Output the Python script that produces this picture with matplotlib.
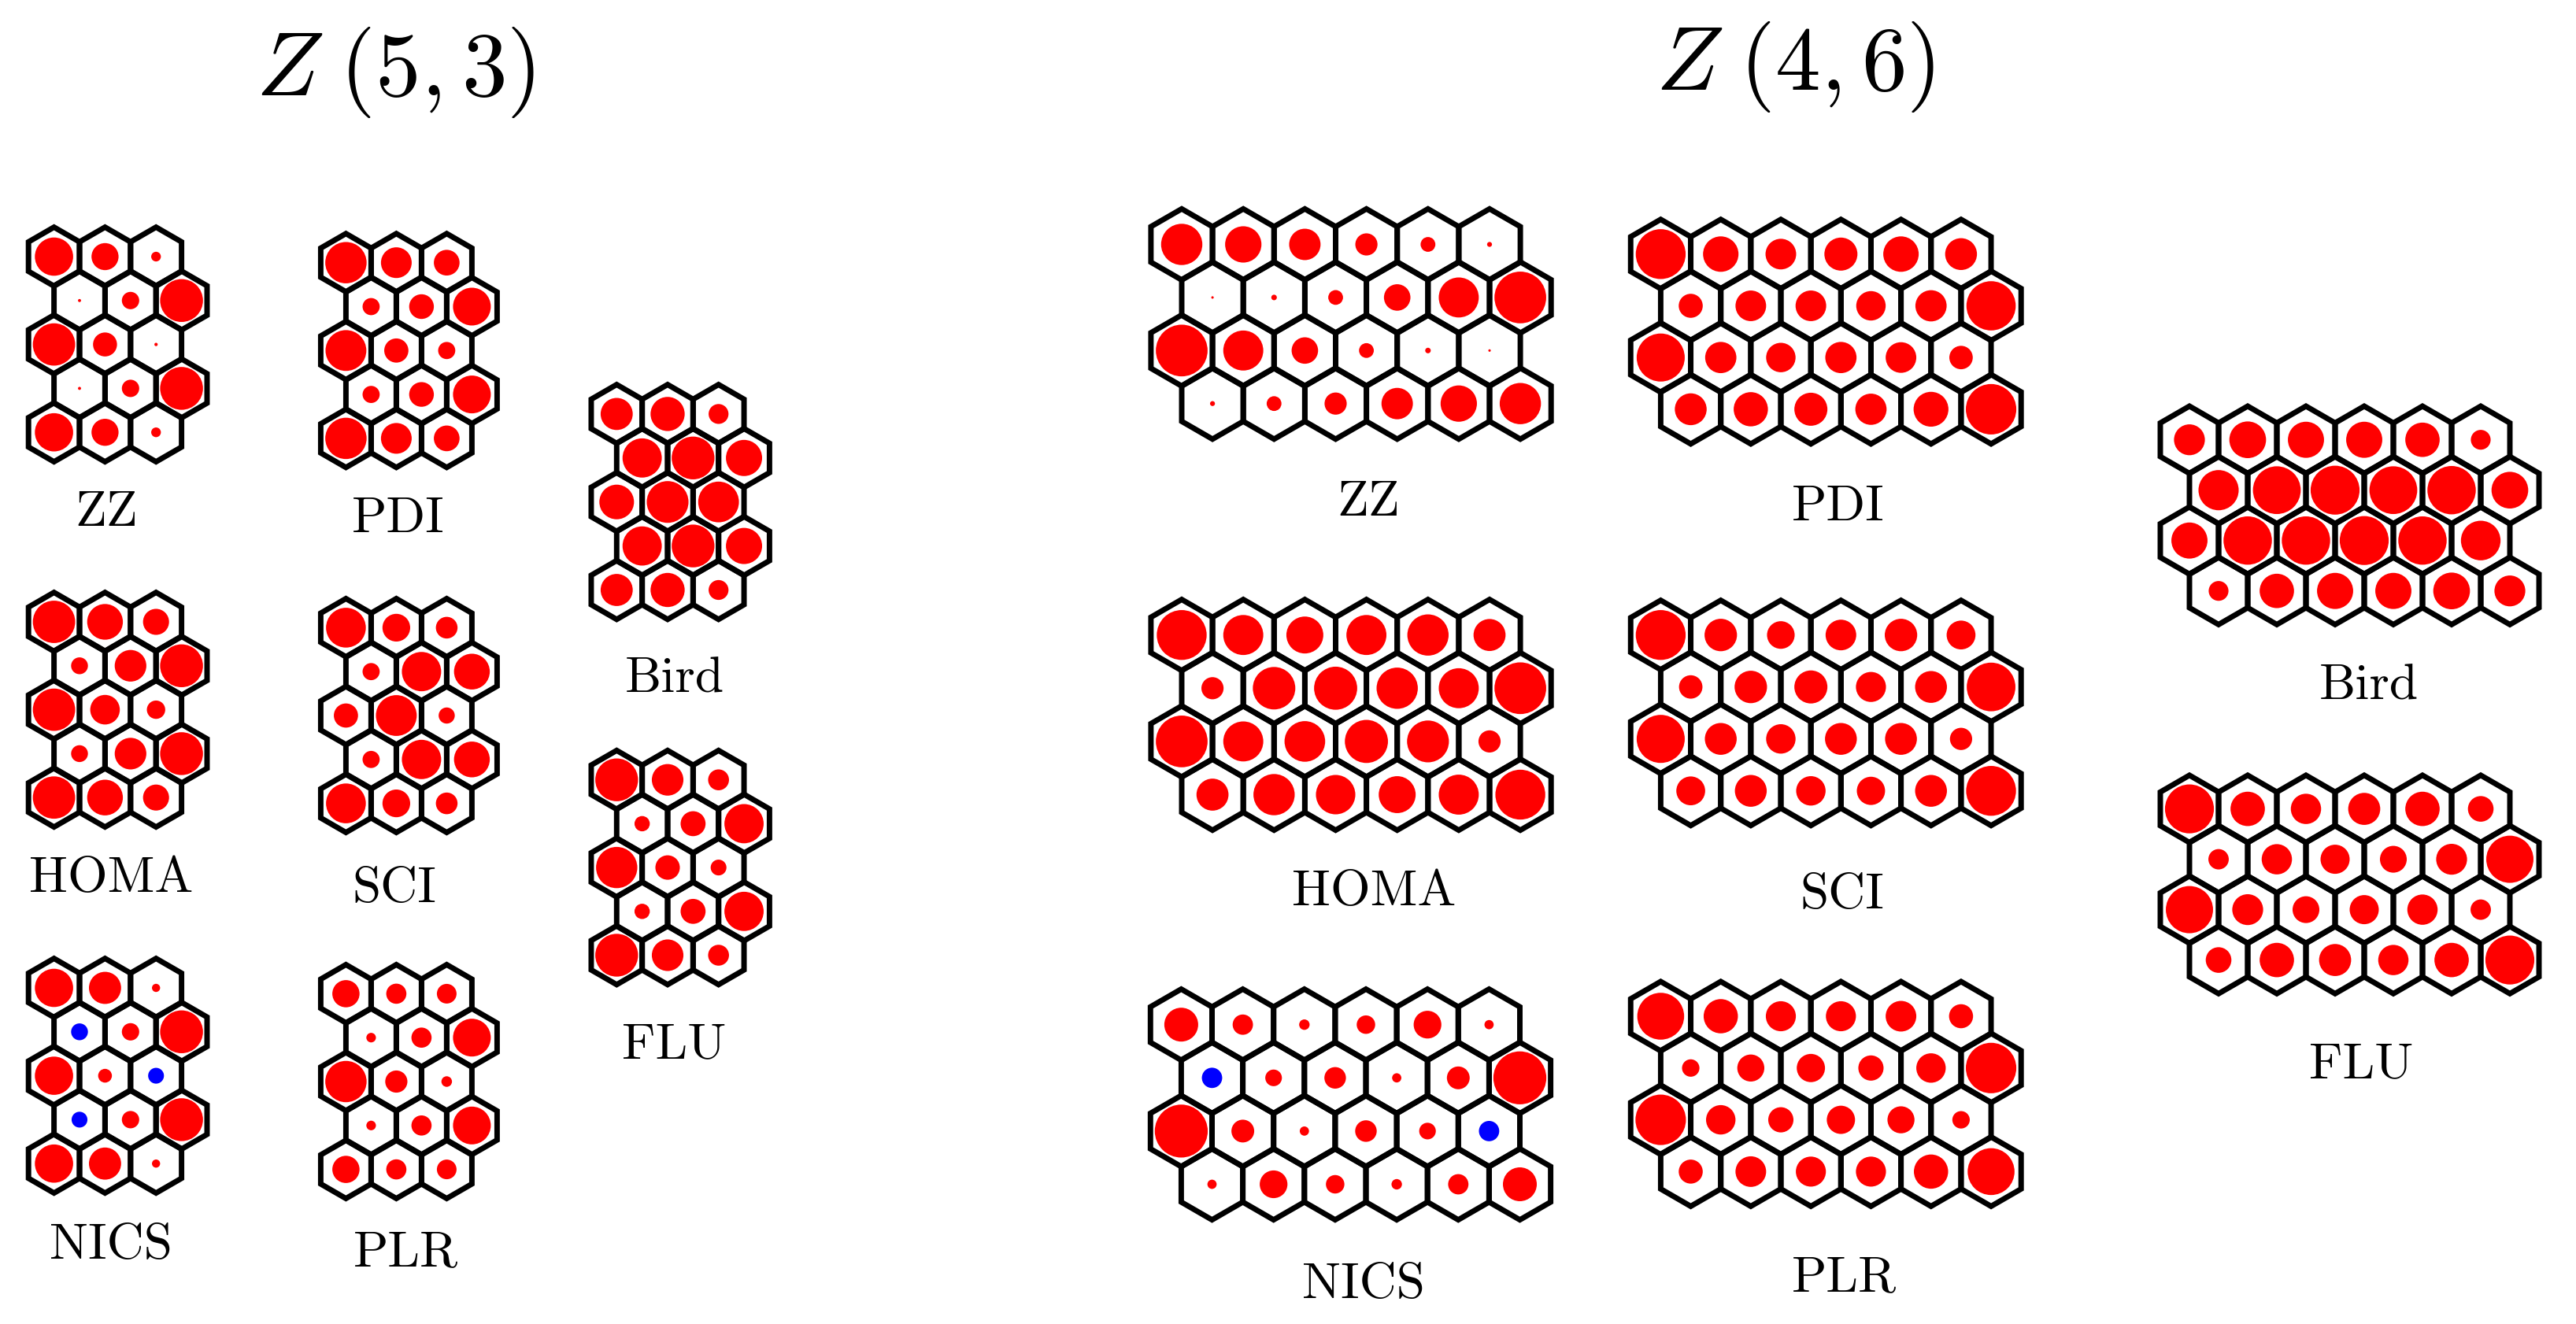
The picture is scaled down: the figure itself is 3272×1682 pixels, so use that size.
import numpy as np
import matplotlib
matplotlib.use('Agg')
import matplotlib.pyplot as plt
from matplotlib.patches import Ellipse, RegularPolygon

# ring values, 1.0 = circle touches the hexagon sides, negative values are blue
zz_53 = [[.75, .53, .19], [.06, .34, .84], [.83, .47, .065], [.06, .34, .84], [.75, .53, .19]]
pdi_53 = [[.82, .61, .51], [.34, .49, .75], [.81, .48, .34], [.34, .49, .75], [.82, .61, .51]]
homa_53 = [[.83, .70, .51], [.33, .62, .84], [.83, .58, .36], [.33, .62, .84], [.83, .70, .51]]
sci_53 = [[.79, .55, .43], [.34, .78, .71], [.48, .81, .32], [.34, .78, .71], [.79, .55, .43]]
nics_53 = [[.75, .63, .16], [-.33, .34, .84], [.75, .27, -.31], [-.31, .34, .84], [.75, .63, .16]]
plr_53 = [[.54, .40, .39], [.19, .40, .75], [.82, .44, .21], [.19, .40, .75], [.54, .40, .39]]
bird_53 = [[.63, .67, .39], [.77, .84, .71], [.68, .82, .80], [.77, .84, .71], [.63, .67, .39]]
flu_53 = [[.84, .62, .41], [.30, .49, .77], [.81, .48, .31], [.30, .49, .77], [.84, .62, .41]]

zz_46 = [[.67, .59, .51, .36, .24, .08], [.04, .09, .24, .43, .65, .84],
         [.84, .65, .43, .24, .09, .04], [.08, .24, .36, .51, .59, .67]]
pdi_46 = [[.83, .59, .51, .55, .59, .53], [.40, .51, .51, .49, .52, .82],
          [.80, .52, .49, .52, .51, .39], [.53, .57, .55, .52, .58, .84]]
homa_46 = [[.81, .65, .60, .65, .67, .52], [.36, .69, .70, .67, .65, .84],
           [.84, .65, .66, .70, .68, .36], [.52, .67, .64, .60, .65, .81]]
sci_46 = [[.83, .54, .46, .51, .54, .48], [.39, .54, .55, .50, .53, .81],
          [.80, .53, .49, .53, .53, .37], [.48, .53, .49, .47, .53, .83]]
nics_46 = [[.55, .33, .17, .30, .45, .15], [-.33, .27, .35, .15, .37, .86],
           [.86, .37, .15, .35, .27, -.33], [.15, .45, .30, .17, .33, .55]]
plr_46 = [[.78, .57, .50, .50, .51, .40], [.29, .45, .47, .42, .49, .84],
          [.84, .49, .42, .47, .45, .29], [.40, .51, .50, .50, .57, .78]]
bird_46 = [[.53, .63, .62, .62, .59, .34], [.69, .82, .84, .82, .83, .63],
           [.62, .83, .83, .84, .83, .68], [.34, .59, .62, .62, .63, .53]]
flu_46 = [[.84, .59, .52, .55, .59, .44], [.35, .52, .50, .46, .53, .81],
          [.81, .53, .46, .50, .52, .35], [.44, .59, .55, .52, .59, .84]]

W, H = 3273, 1682
fig = plt.figure(figsize=(W / 100, H / 100), dpi=100)
ax = fig.add_axes([0, 0, 1, 1])
ax.set_xlim(0, W)
ax.set_ylim(H, 0)
ax.axis('off')
plt.rcParams['mathtext.fontset'] = 'cm'


def draw_panel(values, name, x0, y0, dx, dy, label_x, label_y):
    # pointy-top hexagons, even rows are shifted half a cell to the right
    R = dx / np.sqrt(3)
    for i, row in enumerate(values):
        for j, v in enumerate(row):
            cx = x0 + j * dx + (i % 2) * dx / 2
            cy = y0 + i * dy
            ax.add_patch(Ellipse((cx, cy), abs(v) * dx, abs(v) * dx,
                                 fc='red' if v > 0 else '#0000ff', ec='none', zorder=2))
            ax.add_patch(RegularPolygon((cx, cy), 6, radius=R, fc='none', ec='black',
                                        lw=5, joinstyle='miter', zorder=3))
    ax.text(label_x, label_y, name, family='cmr10', fontsize=47, ha='center', va='baseline')


draw_panel(zz_53, 'ZZ', 68.6, 326, 64.8, 55.8, 135, 668)
draw_panel(homa_53, 'HOMA', 68.6, 790, 64.8, 55.8, 141, 1133)
draw_panel(nics_53, 'NICS', 68.6, 1255, 64.8, 55.8, 141, 1599)
draw_panel(pdi_53, 'PDI', 439.4, 333.7, 64, 55.8, 506, 676)
draw_panel(sci_53, 'SCI', 439.4, 797.4, 64, 55.8, 501, 1146)
draw_panel(plr_53, 'PLR', 439.4, 1262.4, 64, 55.8, 515, 1608)
draw_panel(bird_53, 'Bird', 783.3, 525.9, 64.7, 55.9, 857, 879)
draw_panel(flu_53, 'FLU', 783.3, 990.7, 64.7, 55.7, 856, 1344)

draw_panel(zz_46, 'ZZ', 1501, 310.5, 78.2, 67.4, 1738, 655)
draw_panel(homa_46, 'HOMA', 1501, 806.7, 78.2, 67.6, 1745, 1150)
draw_panel(nics_46, 'NICS', 1500.4, 1301.7, 78.2, 67.6, 1732, 1649)
draw_panel(pdi_46, 'PDI', 2109.4, 322.8, 76.3, 65.7, 2335, 661)
draw_panel(sci_46, 'SCI', 2109.4, 806.7, 76.3, 66, 2340, 1154)
draw_panel(plr_46, 'PLR', 2109.4, 1291, 76.3, 65.8, 2342, 1640)
draw_panel(bird_46, 'Bird', 2781, 558.7, 74, 64, 3009, 888)
draw_panel(flu_46, 'FLU', 2781, 1027.6, 74, 64, 2999, 1369)

ax.text(502, 121, r'$Z\;(5,3)$', fontsize=83, ha='center', va='baseline')
ax.text(2280, 114, r'$Z\;(4,6)$', fontsize=83, ha='center', va='baseline')

fig.savefig('out.png', dpi=100)
